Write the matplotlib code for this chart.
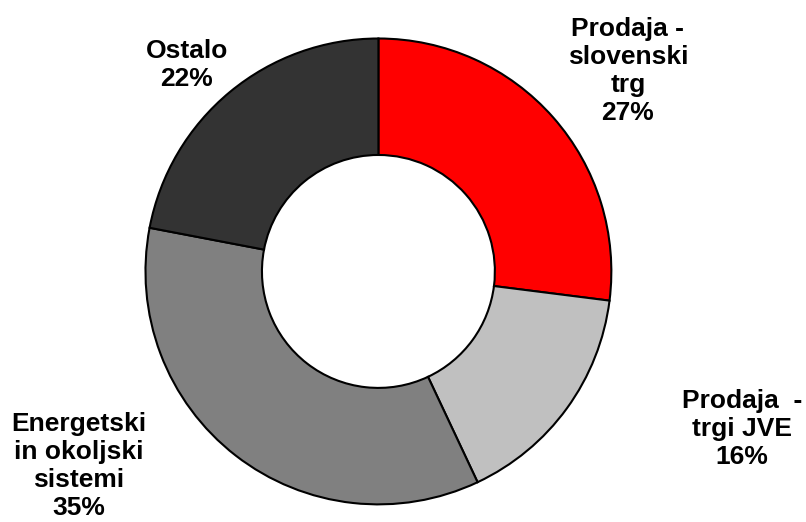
import matplotlib.pyplot as plt

# segment data (clockwise from 12 o'clock)
labels = ['Prodaja -\nslovenski\ntrg', 'Prodaja  -\ntrgi JVE', 'Energetski\nin okoljski\nsistemi', 'Ostalo']
shares = [27, 16, 35, 22]
colors = ['#FF0000', '#C0C0C0', '#808080', '#333333']
# label centres, in units of the outer radius
label_pos = [(1.071, 0.861), (1.56, -0.676), (-1.288, -0.835), (-0.822, 0.886)]

plt.rcParams['font.family'] = ['Liberation Sans', 'DejaVu Sans']

fig = plt.figure(figsize=(8.06, 5.22), dpi=100)
ax = fig.add_axes([0.1805, 0.0335, 0.578, 0.893])

ax.pie(shares, colors=colors, startangle=90, counterclock=False, radius=1,
       wedgeprops=dict(width=0.5, edgecolor='black', linewidth=1.5))

for lab, val, (x, y) in zip(labels, shares, label_pos):
    ax.text(x, y, f'{lab}\n{val}%', ha='center', va='center', fontsize=19,
            fontweight='bold', linespacing=1.2, clip_on=False)

ax.set_xlim(-1, 1)
ax.set_ylim(-1, 1)
ax.set_aspect('equal')
ax.axis('off')

fig.savefig('out.png', dpi=100)
